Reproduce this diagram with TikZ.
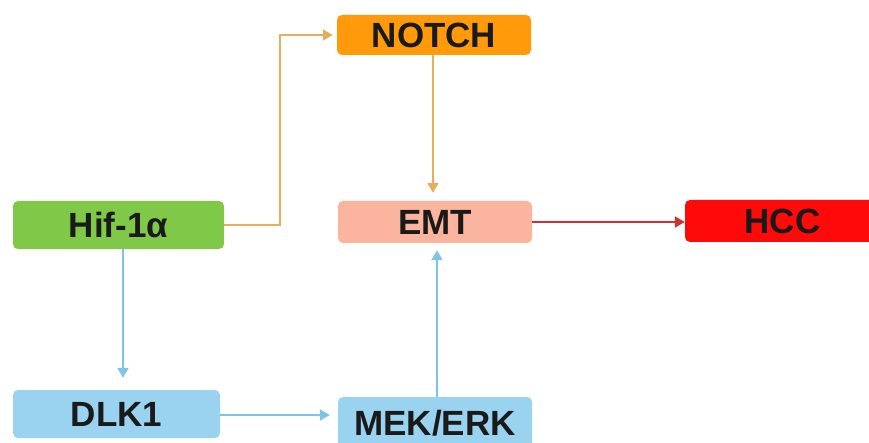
\documentclass[tikz,border=0pt]{standalone}
\usepackage{fontspec}
\setmainfont{Liberation Sans}
\usetikzlibrary{arrows.meta}
\definecolor{cgreen}{HTML}{80C848}
\definecolor{corange}{HTML}{FF9A0A}
\definecolor{csalmon}{HTML}{FBB59E}
\definecolor{cred}{HTML}{FF0A0A}
\definecolor{cblue}{HTML}{9AD3EF}
\definecolor{aorange}{HTML}{E5AE5A}
\definecolor{ablue}{HTML}{7EC4E4}
\definecolor{ared}{HTML}{D03030}
\definecolor{ctext}{HTML}{1A1A1A}
\begin{document}
\begin{tikzpicture}[x=1pt,y=-1pt,
  box/.style={rounded corners=5pt, inner sep=0pt, text=ctext,
    font=\fontsize{35}{40}\bfseries\selectfont},
  conn/.style={line width=2pt, -{Triangle[width=11pt,length=10pt]}}]
\clip (0,0) rectangle (869,443);
\fill[white] (0,0) rectangle (869,443);
\node[box, fill=cgreen, minimum width=211pt, minimum height=48pt] (hif) at (118.5,225) {Hif-1α};
\node[box, fill=corange, minimum width=194pt, minimum height=40pt] (notch) at (434,35) {NOTCH};
\node[box, fill=csalmon, minimum width=194pt, minimum height=42pt] (emt) at (435,222) {EMT};
\node[box, fill=cred, minimum width=195pt, minimum height=42pt] (hcc) at (782.5,221) {HCC};
\node[box, fill=cblue, minimum width=207pt, minimum height=48pt] (dlk) at (116.5,414) {DLK1};
\node[box, fill=cblue, minimum width=194pt, minimum height=53pt] (mek) at (435,423.5) {MEK/ERK};
\coordinate (bend) at ([xshift=56pt]hif.east);
\draw[conn, aorange, shorten >=4pt] (hif.east) -- (bend) |- (notch.west);
\draw[conn, aorange, shorten >=8pt] ([xshift=-1pt]notch.south) -- ([xshift=-1pt]notch.south |- emt.north);
\draw[conn, ablue, shorten >=7pt] ([xshift=2pt]mek.north) -- ([xshift=2pt]mek.north |- emt.south);
\draw[conn, ared] (emt.east) -- (emt.east -| hcc.west);
\draw[conn, ablue, shorten >=12pt] ([xshift=4.5pt]hif.south) -- ([xshift=4.5pt]hif.south |- dlk.north);
\draw[conn, ablue, shorten >=8pt] ([yshift=-1pt]dlk.east) -- ([yshift=-1pt]dlk.east -| mek.west);
\end{tikzpicture}
\end{document}
